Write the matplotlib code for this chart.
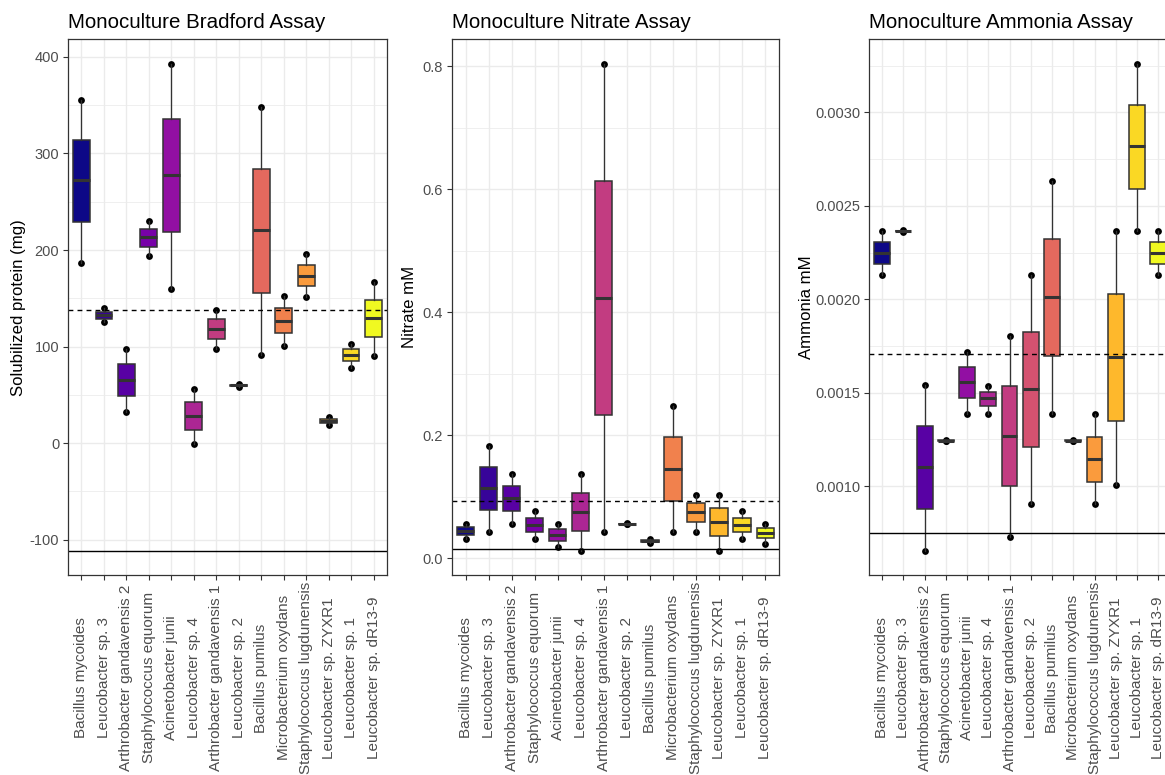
import numpy as np
import matplotlib
matplotlib.use("Agg")
import matplotlib.pyplot as plt

plt.rcParams['font.family'] = ['Liberation Sans', 'DejaVu Sans']
plt.rcParams['axes.unicode_minus'] = False

# ---- data: three replicates per isolate (min, middle, max) ----
species = [
    "Bacillus mycoides", "Leucobacter sp. 3", "Arthrobacter gandavensis 2",
    "Staphylococcus equorum", "Acinetobacter junii", "Leucobacter sp. 4",
    "Arthrobacter gandavensis 1", "Leucobacter sp. 2", "Bacillus pumilus",
    "Microbacterium oxydans", "Staphylococcus lugdunensis",
    "Leucobacter sp. ZYXR1", "Leucobacter sp. 1", "Leucobacter sp. dR13-9",
]

bradford = [
    [187, 272, 355], [125, 132.5, 139.5], [32.4, 65.6, 97.4], [194, 213, 230],
    [159.6, 278, 393], [-1, 28.3, 56.3], [97, 118.4, 138.1], [58.6, 60, 61.1],
    [91.2, 220.3, 347.7], [100.8, 126.7, 152.6], [151.3, 173.3, 195.8],
    [19, 23.4, 26.9], [78, 91.5, 103.2], [90.1, 129.1, 166.8],
]
bradford_blank = -111.3
bradford_control = 138.1

nitrate = [
    [0.032, 0.045, 0.056], [0.043, 0.115, 0.183], [0.056, 0.098, 0.137],
    [0.032, 0.055, 0.077], [0.0185, 0.038, 0.0563], [0.0125, 0.076, 0.137],
    [0.043, 0.423, 0.804], [0.0555, 0.0563, 0.0568], [0.025, 0.028, 0.031],
    [0.043, 0.145, 0.248], [0.043, 0.075, 0.1034], [0.0125, 0.059, 0.1034],
    [0.032, 0.055, 0.077], [0.024, 0.041, 0.0563],
]
nitrate_blank = 0.0153
nitrate_control = 0.0937

ammonia = [
    [0.00213, 0.00225, 0.002365], [0.00236, 0.002365, 0.00237],
    [0.000654, 0.0011, 0.00154], [0.00124, 0.001243, 0.001246],
    [0.001384, 0.001555, 0.00172], [0.001384, 0.00147, 0.001537],
    [0.000727, 0.00127, 0.001805], [0.000902, 0.001518, 0.002128],
    [0.001384, 0.002013, 0.002634], [0.00124, 0.001243, 0.001246],
    [0.000902, 0.001145, 0.001384], [0.001005, 0.001692, 0.002365],
    [0.002365, 0.00282, 0.003261], [0.00213, 0.00225, 0.002365],
]
ammonia_blank = 0.000747
ammonia_control = 0.001707

bradford_ticks = [-100, 0, 100, 200, 300, 400]
bradford_minor = [-50, 50, 150, 250, 350]
nitrate_ticks = [0.0, 0.2, 0.4, 0.6, 0.8]
nitrate_minor = [0.1, 0.3, 0.5, 0.7]
ammonia_ticks = [0.0010, 0.0015, 0.0020, 0.0025, 0.0030]
ammonia_minor = [0.00075, 0.00125, 0.00175, 0.00225, 0.00275, 0.00325]

W, H = 1165, 775
fig = plt.figure(figsize=(W / 100, H / 100), dpi=100)
fig.patch.set_facecolor("white")

fills = plt.get_cmap("plasma")(np.linspace(0, 1, len(species)))
GREY20 = "#333333"
GREY30 = "#4D4D4D"
GRID = "#EBEBEB"

panels = [
    dict(title="Monoculture Bradford Assay", ylabel="Solubilized protein (mg)",
         values=bradford, blank=bradford_blank, control=bradford_control,
         ticks=bradford_ticks, minor=bradford_minor,
         fmt=lambda v: f"{v:.0f}", x0=68, x1=387, labx=19),
    dict(title="Monoculture Nitrate Assay", ylabel="Nitrate mM",
         values=nitrate, blank=nitrate_blank, control=nitrate_control,
         ticks=nitrate_ticks, minor=nitrate_minor,
         fmt=lambda v: f"{v:.1f}", x0=451.7, x1=779, labx=409),
    dict(title="Monoculture Ammonia Assay", ylabel="Ammonia mM",
         values=ammonia, blank=ammonia_blank, control=ammonia_control,
         ticks=ammonia_ticks, minor=ammonia_minor,
         fmt=lambda v: f"{v:.4f}", x0=869.3, x1=1171, labx=806.7),
]

top_px, bot_px = 39.3, 575
pos = np.arange(len(species))

for p in panels:
    ax = fig.add_axes([p["x0"] / W, 1 - bot_px / H,
                       (p["x1"] - p["x0"]) / W, (bot_px - top_px) / H])
    vals = p["values"]
    allv = [v for trip in vals for v in trip] + [p["blank"], p["control"]]
    lo, hi = min(allv), max(allv)
    span = hi - lo
    ax.set_ylim(lo - 0.05 * span, hi + 0.05 * span)
    ax.set_xlim(-0.6, len(species) - 0.4)

    # grid
    for y in p["minor"]:
        ax.axhline(y, color=GRID, lw=0.55, zorder=0)
    for y in p["ticks"]:
        ax.axhline(y, color=GRID, lw=1.0, zorder=0)
    for x in pos:
        ax.axvline(x, color=GRID, lw=1.0, zorder=0)

    # replicate points under the boxes
    for i, trip in enumerate(vals):
        ax.scatter([pos[i]] * len(trip), trip, s=24, color="black",
                   zorder=2, linewidths=0)

    bp = ax.boxplot(vals, positions=pos, widths=0.75, whis=(0, 100),
                    patch_artist=True, showfliers=False, showcaps=False,
                    manage_ticks=False, zorder=3,
                    boxprops=dict(edgecolor=GREY20, linewidth=1.1),
                    medianprops=dict(color=GREY20, linewidth=2.2,
                                     solid_capstyle="butt"),
                    whiskerprops=dict(color=GREY20, linewidth=0.95))
    for patch, c in zip(bp["boxes"], fills):
        patch.set_facecolor(c)

    ax.axhline(p["control"], color="black", lw=1.0, ls=(0, (3.5, 3)), zorder=4)
    ax.axhline(p["blank"], color="black", lw=1.0, zorder=4)

    ax.set_yticks(p["ticks"], [p["fmt"](v) for v in p["ticks"]])
    ax.set_xticks(pos, species, rotation=90, va="center")
    ax.tick_params(axis="y", length=4.6 * 0.72, width=0.8, color=GREY20,
                   labelsize=10.5, labelcolor=GREY30, pad=2.9)
    ax.tick_params(axis="x", length=4.6 * 0.72, width=0.8, color=GREY20,
                   labelsize=11, labelcolor=GREY30, pad=70.8)
    for s in ax.spines.values():
        s.set_color(GREY20)
        s.set_linewidth(0.9)
        s.set_zorder(5)

    ax.set_title(p["title"], loc="left", fontsize=14.8, pad=7.9, color="black")
    ax.set_ylabel(p["ylabel"], fontsize=12.1, va="center", color="black")
    ax.yaxis.set_label_coords((p["labx"] - p["x0"]) / (p["x1"] - p["x0"]), 0.5)

fig.savefig("out.png", dpi=100, facecolor="white")
